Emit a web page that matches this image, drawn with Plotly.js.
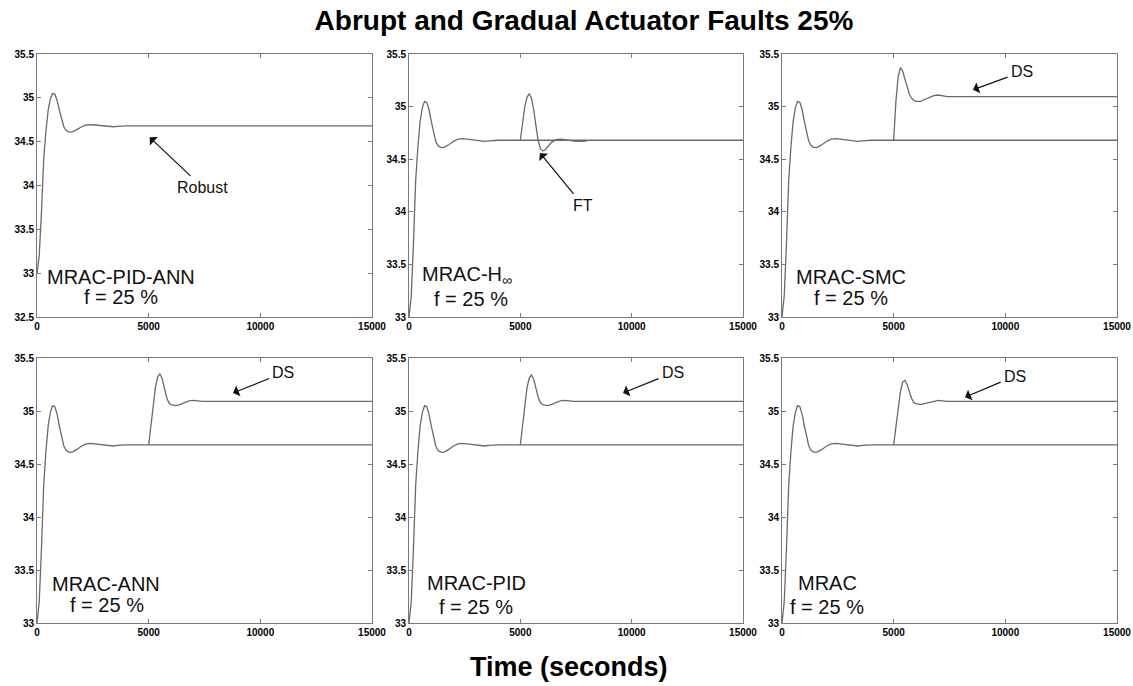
<!DOCTYPE html>
<html>
<head>
<meta charset="utf-8">
<script src="https://cdn.plot.ly/plotly-3.0.1.min.js"></script>
<style>html,body{margin:0;padding:0;background:#fff;}#chart{width:1133px;height:686px;}</style>
</head>
<body>
<div id="chart"></div>
<script>
// ---- Data ----
const panelNames = ["MRAC-PID-ANN", "MRAC-H<sub><span style='font-size:14px'>∞</span></sub>", "MRAC-SMC", "MRAC-ANN", "MRAC-PID", "MRAC"];
const faultLabel = "f = 25 %";
const xTicks = [0, 5000, 10000, 15000];

// nominal (fault-free) response, shared by all panels
const nomT = [0,100,200,300,400,500,600,700,800,900,1000,1100,1200,1300,1400,1500,1600,1800,2000,2200,2400,2600,2800,3000,3200,3400,3600,4000,5000,15000];
const nomY = [33.0,33.2,33.7,34.3,34.62,34.86,34.99,35.05,35.04,34.97,34.86,34.75,34.67,34.63,34.615,34.61,34.615,34.64,34.67,34.69,34.695,34.69,34.685,34.675,34.67,34.67,34.675,34.68,34.68,34.68];

// fault responses (fault at t = 5000 s)
const hinfT = [5000,5100,5200,5300,5400,5500,5600,5700,5800,5900,6000,6100,6200,6400,6600,6800,7000,7200,7500,7800,8000];
const hinfY = [34.68,34.85,35.0,35.09,35.12,35.08,34.97,34.82,34.68,34.6,34.58,34.585,34.61,34.66,34.685,34.69,34.685,34.68,34.67,34.67,34.675];

const smcT = [5000,5100,5200,5300,5400,5500,5600,5700,5800,5900,6000,6200,6400,6600,6800,7000,7200,7400,15000];
const smcY = [34.68,35.05,35.28,35.37,35.34,35.27,35.19,35.12,35.08,35.06,35.05,35.05,35.07,35.09,35.105,35.11,35.105,35.095,35.095];

const dsT  = [5000,5100,5200,5300,5400,5500,5600,5700,5800,5900,6000,6200,6400,6600,6800,7000,7200,7400,15000];
const annY = [34.68,34.85,35.05,35.22,35.32,35.35,35.31,35.22,35.13,35.08,35.06,35.05,35.06,35.08,35.095,35.1,35.095,35.09,35.09];
const pidY = [34.68,34.85,35.05,35.22,35.31,35.34,35.30,35.21,35.13,35.08,35.06,35.05,35.06,35.08,35.095,35.1,35.095,35.09,35.09];
const mracY = [34.68,34.85,35.03,35.18,35.27,35.29,35.25,35.18,35.12,35.08,35.07,35.06,35.07,35.085,35.095,35.1,35.095,35.09,35.09];

// ---- Layout geometry ----
const W = 1133, H = 686;
const colsPx = [[37,372],[409,743],[782,1117]];
const rowsPx = [[54,317],[358,623]];
const FONT = '"Liberation Sans", Arial, sans-serif';
const lineColor = '#6a6a6a';

const faultSets = [null, [hinfT, hinfY], [smcT, smcY], [dsT, annY], [dsT, pidY], [dsT, mracY]];
const traces = [];
const layout = {
  width: W, height: H,
  margin: {l:0, r:0, t:0, b:0},
  paper_bgcolor: '#fff', plot_bgcolor: '#fff',
  showlegend: false,
  font: {family: FONT, color: '#000'},
  title: {text: '<b>Abrupt and Gradual Actuator Faults 25%</b>', x: 584/W, y: 1 - 20/H,
          xanchor: 'center', yanchor: 'middle', font: {family: FONT, size: 28, color: '#000'}},
  annotations: []
};

for (let i = 0; i < 6; i++) {
  const r = Math.floor(i / 3), c = i % 3;
  const n = i === 0 ? '' : String(i + 1);
  const xa = 'x' + n, ya = 'y' + n;
  traces.push({x: nomT, y: nomY, xaxis: xa, yaxis: ya, type: 'scatter', mode: 'lines',
               line: {color: lineColor, width: 1.3}, hoverinfo: 'skip'});
  if (faultSets[i]) {
    traces.push({x: faultSets[i][0], y: faultSets[i][1], xaxis: xa, yaxis: ya, type: 'scatter', mode: 'lines',
                 line: {color: lineColor, width: 1.3}, hoverinfo: 'skip'});
  }
  const ymin = i === 0 ? 32.5 : 33;
  const common = {showline: true, mirror: 'ticks', linecolor: '#7a7a7a', linewidth: 1,
                  ticks: 'inside', ticklen: 4, tickcolor: '#7a7a7a', showgrid: false, zeroline: false,
                  tickfont: {family: FONT, size: 10, color: '#000', weight: 'bold'}};
  layout['xaxis' + n] = Object.assign({}, common, {
    domain: [colsPx[c][0] / W, colsPx[c][1] / W], range: [0, 15000],
    tickmode: 'array', tickvals: xTicks, ticktext: xTicks.map(String),
    anchor: ya, ticklabelstandoff: 0
  });
  layout['yaxis' + n] = Object.assign({}, common, {
    domain: [1 - rowsPx[r][1] / H, 1 - rowsPx[r][0] / H], range: [ymin, 35.5],
    tickmode: 'linear', tick0: 32.5, dtick: 0.5,
    anchor: xa, ticklabelstandoff: 0
  });
}

// panel labels
const labelPos = [[3750, 32.96, 3750, 32.73], [2605, 33.39, 2784, 33.17], [3090, 33.38, 3090, 33.18],
                  [3090, 33.37, 3134, 33.17], [3009, 33.38, 3009, 33.15], [2015, 33.38, 2015, 33.15]];
for (let i = 0; i < 6; i++) {
  const n = i === 0 ? '' : String(i + 1);
  const p = labelPos[i];
  layout.annotations.push({xref: 'x' + n, yref: 'y' + n, x: p[0], y: p[1], text: panelNames[i], showarrow: false,
    font: {family: FONT, size: 20, color: '#111'}, xanchor: 'center', yanchor: 'middle'});
  layout.annotations.push({xref: 'x' + n, yref: 'y' + n, x: p[2], y: p[3], text: faultLabel, showarrow: false,
    font: {family: FONT, size: 20, color: '#111'}, xanchor: 'center', yanchor: 'middle'});
}

// arrow annotations: [panel index, text, head x, head y, text x, text y]
const arrows = [[0, 'Robust', 5045, 34.55, 7410, 33.98], [1, 'FT', 5883, 34.56, 7814, 34.06],
                [2, 'DS', 8552, 35.16, 10746, 35.33], [3, 'DS', 8776, 35.17, 11037, 35.36],
                [4, 'DS', 9611, 35.17, 11856, 35.36], [5, 'DS', 8194, 35.13, 10433, 35.33]];
arrows.forEach(a => {
  const n = a[0] === 0 ? '' : String(a[0] + 1);
  layout.annotations.push({xref: 'x' + n, yref: 'y' + n, axref: 'x' + n, ayref: 'y' + n,
    x: a[2], y: a[3], ax: a[4], ay: a[5], text: a[1], showarrow: true,
    arrowhead: 1, arrowsize: 1.6, arrowwidth: 1.2, arrowcolor: '#111', standoff: 0, startstandoff: 2,
    font: {family: FONT, size: 16, color: '#111'}});
});

// common x-axis label
layout.annotations.push({xref: 'paper', yref: 'paper', x: 569 / W, y: 1 - 667 / H, xanchor: 'center', yanchor: 'middle',
  text: '<b>Time (seconds)</b>', showarrow: false, font: {family: FONT, size: 27, color: '#000'}});

Plotly.newPlot('chart', traces, layout, {staticPlot: true, displayModeBar: false});
</script>
</body>
</html>
